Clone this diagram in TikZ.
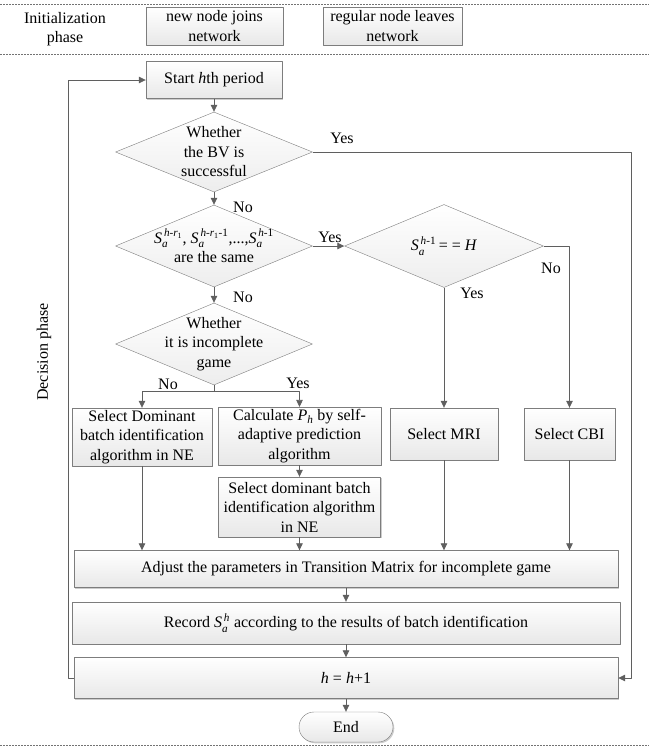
\documentclass[tikz,border=0pt]{standalone}
\usepackage{amsmath}
\usepackage{fontspec}
\setmainfont{Liberation Serif}
\usetikzlibrary{shapes.geometric,shadows,arrows.meta}
\newcommand{\vi}[1]{\textit{#1}}
\definecolor{linegray}{RGB}{95,95,95}
\definecolor{framegray}{RGB}{125,125,125}
\tikzset{
  box/.style={draw=framegray, top color=white, bottom color=black!9, align=center, inner sep=2pt,
    drop shadow={shadow xshift=1.3pt, shadow yshift=-1.3pt, fill=black!40, opacity=.5}},
  dia/.style={diamond, draw=framegray, top color=white, bottom color=black!7, align=center, inner sep=-20pt},
  flow/.style={draw=linegray, line width=0.8pt, -{Triangle[length=7pt,width=6.5pt]}},
  conn/.style={draw=linegray, line width=0.8pt},
  sep/.style={draw=black!55, dash pattern=on 2pt off 1pt, line width=0.6pt}
}
\begin{document}
\begin{tikzpicture}[x=1pt, y=-1pt, font=\fontsize{16}{19.5}\selectfont, line join=round]
\useasboundingbox (0,0) rectangle (649,748);
% phase separators
\draw[sep] (0,4) -- (649,4);
\draw[sep] (0,54) -- (649,54);
\draw[sep] (0,745) -- (649,745);

% initialization phase
\node[align=center] (ini) at (65,29) {Initialization\\phase};
\node[box, minimum width=137, minimum height=38] (join) at (214.5,26) {new node joins\\network};
\node[box, minimum width=139, minimum height=38] (leave) at (392.5,26) {regular node leaves\\network};

% decision phase
\node[rotate=90] (dec) at (44,352) {Decision phase};
\node[box, minimum width=136, minimum height=37] (start) at (214,80) {Start \vi{h}th period};
\node[dia, minimum width=197, minimum height=80] (bv) at (214,152) {Whether\\the BV is\\successful};
\node[dia, minimum width=197, minimum height=82] (same) at (214,246)
  {$\vi{S}_{\vi{a}}^{\,\vi{h}\text{-}\vi{r}_{\text{1}}}$, $\vi{S}_{\vi{a}}^{\,\vi{h}\text{-}\vi{r}_{\text{1}}\text{-1}}$,...,$\vi{S}_{\vi{a}}^{\,\vi{h}\text{-1}}$\\are the same};
\node[dia, minimum width=199, minimum height=83] (hone) at (444,246) {$\vi{S}_{\vi{a}}^{\,\vi{h}\text{-1}}$\,= = \vi{H}};
\node[dia, minimum width=197, minimum height=82] (game) at (214,344) {Whether\\it is incomplete\\game};

\node[box, minimum width=140, minimum height=58] (dom) at (142,437) {Select Dominant\\batch identification\\algorithm in NE};
\node[box, minimum width=163, minimum height=56] (calc) at (299.5,436) {Calculate $\vi{P}_{\vi{h}}$ by self-\\adaptive prediction\\algorithm};
\node[box, minimum width=162, minimum height=60] (seldom) at (299.5,507) {Select dominant batch\\identification algorithm\\in NE};
\node[box, minimum width=108, minimum height=52] (mri) at (444,434) {Select MRI};
\node[box, minimum width=91, minimum height=52] (cbi) at (569.5,434) {Select CBI};

\node[box, minimum width=544, minimum height=37] (adj) at (346,569) {Adjust the parameters in Transition Matrix for incomplete game};
\node[box, minimum width=548, minimum height=42] (rec) at (346,623) {Record $\vi{S}_{\vi{a}}^{\,\vi{h}}$ according to the results of batch identification};
\node[box, minimum width=544, minimum height=41] (inc) at (346,678) {\vi{h} = \vi{h}+1};
\node[box, rounded corners=15pt, minimum width=94, minimum height=30] (end) at (346,727) {End};

% connectors
\coordinate (lt) at (68,80);
\coordinate (rt) at (631,152);
\coordinate (sp) at (214,391);
\draw[flow] (inc.west) -| (lt) -- (start.west);
\draw[flow] (start) -- (bv);
\draw[flow] (bv.east) -- (rt) |- (inc.east);
\draw[flow] (bv) -- (same);
\draw[flow] (same.east) -- (hone.west);
\draw[flow] (same) -- (game);
\draw[flow] (hone.east) -| (cbi.north);
\draw[flow] (hone) -- (mri);
\draw[conn] (game.south) -- (sp);
\draw[flow] (sp) -| (dom.north);
\draw[flow] (sp) -| (calc.north);
\draw[flow] (calc) -- (seldom);
\foreach \n in {dom,seldom,mri,cbi} \draw[flow] (\n.south) -- (\n.south |- adj.north);
\draw[flow] (adj) -- (rec);
\draw[flow] (rec) -- (inc);
\draw[flow] (inc) -- (end);

% branch labels
\path
(342,138) node (y1) {Yes}
(243,207) node (n1) {No}
(330,237) node (y2) {Yes}
(243,297) node (n2) {No}
(551,268) node (n3) {No}
(472,293) node (y3) {Yes}
(168,384) node (n4) {No}
(298,383) node (y4) {Yes};
\end{tikzpicture}
\end{document}
